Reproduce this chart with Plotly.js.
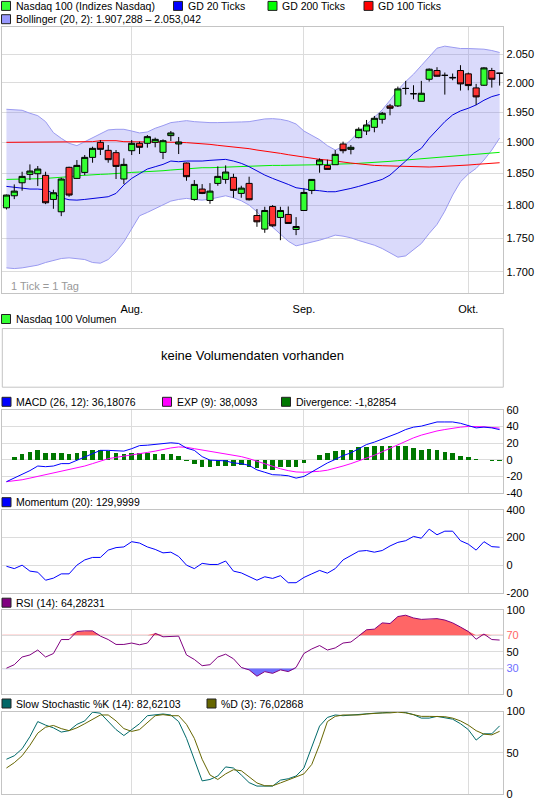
<!DOCTYPE html>
<html>
<head>
<meta charset="utf-8">
<script src="https://cdn.plot.ly/plotly-3.0.1.min.js"></script>
<style>
html,body{margin:0;padding:0;background:#fff;}
#chart{width:545px;height:812px;}
</style>
</head>
<body>
<div id="chart"></div>
<script>
// ---------- DATA ----------
const monthTickIdx = [16, 38, 59];
const monthLabels = ['Aug.', 'Sep.', 'Okt.'];

const priceTicks = [1700, 1750, 1800, 1850, 1900, 1950, 2000, 2050];
const priceTickLabels = ['1.700', '1.750', '1.800', '1.850', '1.900', '1.950', '2.000', '2.050'];

const open = [1796.4,1815.1,1835.5,1848.8,1849.8,1847.2,1809.4,1790.3,1860.0,1842.4,
  1851.9,1876.0,1900.4,1887.4,1883.6,1841.4,1886.8,1898.8,1898.8,1900.4,
  1884.1,1911.4,1897.7,1866.9,1809.4,1825.6,1807.8,1834.5,1840.8,1844.0,
  1818.8,1834.5,1784.6,1763.8,1798.5,1781.6,1786.2,1763.3,1792.3,1823.5,
  1864.2,1863.1,1864.2,1897.7,1889.0,1908.1,1919.0,1925.1,1938.4,1960.8,
  1960.8,1990.5,1981.5,1968.7,2006.3,2021.4,2013.0,2009.5,2021.4,2015.6,
  1991.4,1996.0,2021.4,2016.7];
const high = [1817.0,1832.9,1853.0,1864.7,1862.1,1853.0,1824.5,1843.5,1861.0,1871.7,
  1879.8,1893.3,1904.2,1896.0,1887.9,1874.4,1904.2,1901.5,1912.4,1908.1,
  1905.3,1919.0,1909.2,1867.5,1839.8,1833.4,1835.0,1861.5,1863.1,1849.8,
  1830.8,1845.1,1794.4,1798.0,1800.6,1798.0,1798.5,1782.1,1826.6,1841.4,
  1874.4,1872.3,1887.9,1901.5,1896.0,1925.1,1937.3,1944.0,1950.7,1964.2,
  1993.7,2003.5,1996.0,2003.5,2025.0,2027.2,2017.9,2016.2,2030.7,2017.9,
  1998.3,2027.2,2026.0,2016.7];
const low = [1793.9,1809.9,1823.0,1839.8,1830.3,1802.1,1794.9,1783.6,1813.6,1841.4,
  1847.7,1867.4,1879.8,1867.4,1841.4,1833.4,1879.8,1881.4,1891.7,1892.3,
  1873.3,1902.6,1881.4,1838.7,1807.3,1817.7,1802.6,1830.8,1834.0,1812.0,
  1812.0,1807.8,1767.3,1758.2,1767.3,1747.1,1772.4,1754.7,1792.3,1817.7,
  1851.4,1856.7,1864.2,1882.5,1880.9,1907.0,1912.4,1916.9,1931.2,1945.1,
  1959.1,1980.0,1972.1,1968.7,2002.3,2011.0,1980.0,2004.6,1986.9,1987.4,
  1962.5,1994.9,1992.0,1995.4];
const close = [1816.2,1822.4,1845.6,1854.1,1857.3,1804.2,1819.8,1841.4,1816.2,1863.1,
  1876.0,1890.6,1889.0,1872.3,1861.5,1864.7,1898.8,1892.3,1909.7,1905.3,
  1903.1,1915.8,1901.0,1845.1,1832.9,1818.8,1822.4,1845.6,1852.5,1823.5,
  1827.1,1808.9,1774.9,1792.3,1768.8,1792.3,1772.4,1767.8,1820.3,1840.8,
  1871.7,1856.7,1880.9,1886.8,1892.3,1921.8,1929.0,1940.1,1948.5,1956.9,
  1989.7,1990.5,1981.5,1982.3,2023.7,2011.5,2013.0,2008.8,1998.3,1995.4,
  1976.1,2026.0,2006.3,2016.7];

const bollUpper = [1955.2,1954.6,1953.5,1948.5,1944.5,1934.5,1916.3,1907.0,1898.8,1895.0,
  1901.5,1907.0,1914.7,1920.8,1921.8,1921.8,1919.0,1915.8,1917.4,1923.5,
  1927.9,1932.9,1934.5,1936.2,1934.5,1933.4,1932.9,1932.9,1932.9,1933.4,
  1934.0,1934.5,1936.8,1939.0,1939.5,1938.4,1935.7,1930.6,1919.0,1912.4,
  1904.8,1895.0,1887.9,1893.3,1904.2,1918.0,1930.1,1941.2,1954.1,1970.4,
  1988.0,2002.3,2015.0,2030.1,2045.3,2060.6,2064.2,2061.8,2060.0,2060.0,
  2059.4,2058.8,2056.5,2053.0];
const bollLower = [1706.0,1705.0,1706.0,1707.5,1710.0,1713.9,1717.3,1719.8,1720.8,1719.8,
  1718.3,1713.9,1712.9,1718.3,1729.7,1744.6,1764.8,1784.1,1789.3,1795.4,
  1800.6,1806.8,1809.4,1811.0,1809.4,1808.3,1809.9,1813.0,1815.1,1812.0,
  1807.3,1800.6,1790.3,1777.5,1766.8,1755.7,1745.6,1738.6,1741.1,1744.6,
  1747.1,1750.7,1754.7,1753.2,1750.7,1746.6,1743.6,1739.6,1734.6,1728.2,
  1721.8,1723.7,1732.2,1742.1,1757.2,1770.9,1791.3,1816.2,1837.1,1849.3,
  1858.3,1871.7,1887.9,1907.3];
const gd20 = [1829.8,1828.7,1826.6,1825.6,1825.6,1824.5,1818.8,1812.0,1808.9,1808.3,
  1809.4,1811.0,1813.0,1813.6,1818.8,1831.9,1842.4,1850.4,1857.3,1861.0,
  1864.7,1870.1,1869.0,1870.1,1869.6,1870.1,1871.2,1871.7,1872.8,1870.1,
  1866.4,1861.0,1854.1,1847.7,1842.4,1838.2,1832.9,1827.7,1825.6,1824.0,
  1823.0,1821.4,1821.4,1823.5,1826.6,1829.8,1833.4,1837.1,1840.8,1847.7,
  1858.3,1870.1,1882.5,1890.6,1907.0,1920.8,1934.5,1945.7,1952.4,1956.9,
  1962.5,1970.4,1976.6,1980.2];
const gd200 = [1840.8,1840.8,1841.4,1841.4,1841.9,1842.4,1843.0,1844.0,1845.1,1846.6,
  1847.7,1848.2,1848.8,1849.3,1849.8,1851.4,1851.9,1852.5,1853.0,1854.1,
  1854.6,1855.7,1856.7,1857.8,1858.9,1859.4,1859.4,1860.0,1860.5,1861.0,
  1861.5,1862.1,1862.6,1863.1,1863.1,1863.1,1863.1,1863.1,1863.1,1863.7,
  1864.2,1864.7,1864.7,1865.3,1865.8,1866.4,1866.9,1867.4,1868.5,1869.6,
  1870.7,1871.7,1872.8,1873.9,1875.0,1876.0,1876.6,1877.6,1878.7,1879.8,
  1880.3,1881.4,1882.5,1884.1];
const gd100 = [1900.4,1900.4,1900.4,1900.4,1901.5,1901.5,1901.5,1901.5,1901.5,1901.5,
  1901.5,1901.5,1903.1,1903.1,1903.1,1901.5,1901.5,1901.5,1901.5,1901.5,
  1901.5,1901.5,1900.4,1899.9,1899.3,1898.2,1897.1,1895.5,1894.4,1892.8,
  1891.7,1890.1,1887.9,1886.3,1884.1,1882.5,1880.3,1878.2,1876.6,1874.4,
  1872.8,1871.7,1870.7,1868.5,1866.9,1865.3,1864.2,1863.1,1862.6,1862.1,
  1862.1,1861.5,1861.5,1861.0,1860.5,1861.0,1861.5,1862.6,1863.1,1863.7,
  1864.7,1865.3,1866.4,1867.4];

const macd = [-26.3,-22,-18,-13,-7.5,-8.3,-7.5,-4.6,-4.6,-0.4,
  2.9,7.9,11.3,11.3,10.4,10.4,13.3,17,17.5,18.3,
  19.6,20.4,19.6,14,11.3,3.8,-0.4,-1.3,-1.3,-3.8,
  -4.6,-6.7,-12.1,-15,-17.9,-18.3,-19.2,-22,-20,-14.6,
  -8.8,-3.8,0.4,5,8.3,13.3,18.3,21.2,24.6,27.9,
  32,36.3,39.2,40.4,43.3,45.4,45.4,45.4,43.8,41.3,
  38.3,39.2,38.3,36.18];
const macdSignal = [-26.3,-25.5,-24,-22,-20,-17.5,-15.5,-13.8,-12,-10,
  -7.5,-4.6,-1.3,1.3,2.9,4.2,5.8,7.1,8.8,10.4,
  12.5,14.2,15.4,15,13.3,11.7,10.4,8.8,7.1,5.4,
  3.8,1.3,-1.7,-4.6,-8,-10.8,-13,-14.6,-15,-14.6,
  -13.8,-12.5,-10.4,-7.5,-4.6,-1.3,1.7,5.4,9.6,13.8,
  18.3,22.5,26.3,29.6,32.5,34.6,36.3,38,39.2,40,
  40,39.6,38.8,38.01];
const macdDiv = [0,3.3,7,9.6,12,8.3,8.3,8.3,7.5,8.3,
  10.8,12,12,10.8,7.9,7,7.9,7.9,8.3,7,
  7,7,4.6,-2,-5.4,-8.8,-9.2,-7.9,-7.5,-7.9,
  -6.7,-9.2,-10,-10.8,-11.7,-8.8,-8.8,-8.8,-4.2,0,
  6.3,8.3,10.8,12,12,15.4,15.8,16.3,16.3,16.3,
  16.3,16.3,14.6,12,13.3,12,9.2,8.3,4.6,3.3,
  0.8,0,-1.2,-1.83];

const momentum = [-8,-25,0,-43,-51,-109,-94,-63,-63,0,
  38,56,56,109,127,132,170,160,132,114,
  89,94,63,0,-25,13,5,5,30,-43,
  -56,-84,-109,-84,-96,-76,-127,-127,-89,-63,
  -38,-58,-25,38,68,101,106,94,106,139,
  165,177,208,195,261,220,246,246,177,152,
  109,170,134,130];

const rsi = [30.5,34.7,43.9,46.4,52.3,43.9,48.1,64.9,64.9,74.5,
  75.3,75.3,69,64.9,59,59,60.7,58.6,60.7,72.4,
  68.2,68.2,69,46.4,41,33.5,34.7,43.9,47.3,41.8,
  31.4,28.5,20.9,26.4,24.3,28.5,26.4,31.4,48.1,53.6,
  57.7,52.3,54.8,60.7,61.9,69,76.6,77.4,84.9,84.1,
  92.5,94.1,90.8,89.1,89.1,90,88.3,84.9,79.9,74.5,
  65.3,71.5,64.9,64.28];
const rsiLevels = [30, 70];

const stochK = [42.2,46.4,54.9,69.6,87.8,83.5,80.2,75.1,76.8,84.4,
  88.6,99.2,97.9,88.6,78.1,70.9,78.1,85.2,94.9,95.8,
  97,95.8,87.8,67.5,42.2,16,17.7,21.9,32.9,31.6,
  23.2,13.9,9.7,9.7,9.7,16.9,18.6,21.9,31.6,57,
  82.3,92.8,95.8,94.9,95.8,95.8,97,97.9,98.3,99.2,
  100,98.7,96.2,92,92,94.1,92.8,90.7,85.2,78.1,
  65.4,73,73,82.62];
const stochD = [31.6,38,46.4,59.1,73.8,81,83.1,79.3,76.8,80.2,
  85.2,90.7,95.8,95.8,88.6,79.3,75.9,78.1,86.5,94.9,
  96.2,94.9,94.9,84.4,67.5,42.2,23.2,17.7,24.5,29.5,
  28.3,21.1,13.5,10.1,10.1,13.5,16.9,20.3,24.5,35.9,
  59.9,87.8,94.1,95.8,95.8,95.8,97,97.9,98.3,98.3,
  99.2,98.3,96.2,94.1,94.1,93.7,93.7,92,88.6,83.5,
  76.8,72.6,71.7,76.03];

// ---------- LAYOUT HELPERS ----------
const W = 545, H = 812;
const fx = p => p / W;
const fy = p => 1 - p / H;
const idx = close.map((_, i) => i);
const xRange = [-0.53, 63.47];
const FONT = 'Liberation Sans, Arial, Helvetica, sans-serif';
const GRID = '#dcdcdc', FRAME = '#c4c4c4';
const xDom = [fx(2.3), fx(503.3)];
const panels = {
  main: [26.7, 292.7], vol: [328.5, 387.2], macd: [409.8, 493.1],
  mom: [509.9, 592.8], rsi: [610.3, 693.6], sto: [711.5, 794.1]
};
const dom = k => [fy(panels[k][1]), fy(panels[k][0])];
const tickFont = {family: FONT, size: 11, color: '#000'};

function xAx(anchor, showLabels) {
  return {
    domain: xDom, range: xRange, anchor: anchor, type: 'linear',
    showgrid: true, gridcolor: GRID, gridwidth: 1, zeroline: false,
    showline: true, mirror: true, linecolor: FRAME, linewidth: 1,
    ticks: '', tickmode: 'array', tickvals: monthTickIdx, ticktext: monthLabels,
    showticklabels: showLabels, tickfont: tickFont, fixedrange: true,
    ticklabelstandoff: 6
  };
}
function yAx(anchor, key, range, tv, tt, extra) {
  return Object.assign({
    domain: dom(key), range: range, anchor: anchor, side: 'right',
    showgrid: true, gridcolor: GRID, gridwidth: 1, zeroline: false,
    showline: true, mirror: true, linecolor: FRAME, linewidth: 1,
    ticks: '', tickmode: 'array', tickvals: tv, ticktext: tt,
    tickfont: tickFont, fixedrange: true
  }, extra || {});
}
const hyphen = v => String(v).replace('\u2212', '-');
const priceRange = [Math.log10(1670), Math.log10(2099)];

const macdTicks = [-40, -20, 0, 20, 40, 60];
const momTicks = [-200, 0, 200, 400];
const rsiTicks = [0, 30, 50, 70, 100];
const rsiTickText = ['0', '<span style="color:#6f6fff">30</span>', '50', '<span style="color:#ff6666">70</span>', '100'];
const stoTicks = [0, 50, 100];

// ---------- TRACES ----------
const line = (x, y, xa, ya, color, extra) => Object.assign({
  type: 'scatter', mode: 'lines', x: x, y: y, xaxis: xa, yaxis: ya,
  line: {color: color, width: 1}, hoverinfo: 'skip', showlegend: false
}, extra || {});

const traces = [
  line(idx, bollLower, 'x', 'y', '#9a9af0'),
  line(idx, bollUpper, 'x', 'y', '#9a9af0', {fill: 'tonexty', fillcolor: 'rgba(112,112,240,0.26)'}),
  line(idx, gd200, 'x', 'y', '#00ee00'),
  line(idx, gd100, 'x', 'y', '#ff0000'),
  line(idx, gd20, 'x', 'y', '#0000dd'),
  {
    type: 'candlestick', x: idx, open: open, high: high, low: low, close: close,
    xaxis: 'x', yaxis: 'y7', whiskerwidth: 0, hoverinfo: 'skip', showlegend: false,
    increasing: {fillcolor: '#33ff33', line: {color: '#000', width: 1}},
    decreasing: {fillcolor: '#ff3333', line: {color: '#000', width: 1}}
  },
  // MACD
  {type: 'bar', x: idx, y: macdDiv, xaxis: 'x2', yaxis: 'y2', width: 0.58,
   marker: {color: '#007700', line: {width: 0}}, hoverinfo: 'skip', showlegend: false},
  line(idx, macdSignal, 'x2', 'y2', '#ff00ff'),
  line(idx, macd, 'x2', 'y2', '#0000ff'),
  // Momentum
  line(idx, momentum, 'x3', 'y3', '#0000ff'),
  // RSI with fills
  line(idx, rsi.map(() => rsiLevels[1]), 'x4', 'y4', 'rgba(0,0,0,0)', {line: {width: 0}}),
  line(idx, rsi.map(v => Math.max(v, rsiLevels[1])), 'x4', 'y4', 'rgba(0,0,0,0)',
       {line: {width: 0}, fill: 'tonexty', fillcolor: '#ff6666'}),
  line(idx, rsi.map(() => rsiLevels[0]), 'x4', 'y4', 'rgba(0,0,0,0)', {line: {width: 0}}),
  line(idx, rsi.map(v => Math.min(v, rsiLevels[0])), 'x4', 'y4', 'rgba(0,0,0,0)',
       {line: {width: 0}, fill: 'tonexty', fillcolor: '#7070ff'}),
  line(idx, rsi, 'x4', 'y4', '#800080'),
  // Stochastic
  line(idx, stochK, 'x5', 'y5', '#006a6a'),
  line(idx, stochD, 'x5', 'y5', '#666600')
];

// ---------- LEGENDS / TEXT ----------
const legendItems = [
  {x: 1.5, y: 5.9, color: '#33ff33', text: 'Nasdaq 100 (Indizes Nasdaq)'},
  {x: 173.5, y: 5.9, color: '#0000ff', text: 'GD 20 Ticks'},
  {x: 268, y: 5.9, color: '#00ff00', text: 'GD 200 Ticks'},
  {x: 364, y: 5.9, color: '#ff0000', text: 'GD 100 Ticks'},
  {x: 1.5, y: 19.2, color: '#9999ff', text: 'Bollinger (20, 2): 1.907,288 \u2013 2.053,042'},
  {x: 1.5, y: 319, color: '#33ff33', text: 'Nasdaq 100 Volumen'},
  {x: 2, y: 401.8, color: '#0000ff', text: 'MACD (26, 12): 36,18076'},
  {x: 162.5, y: 401.8, color: '#ff00ff', text: 'EXP (9): 38,0093'},
  {x: 281.5, y: 401.8, color: '#007700', text: 'Divergence: -1,82854'},
  {x: 2, y: 502.2, color: '#0000ff', text: 'Momentum (20): 129,9999'},
  {x: 2, y: 602.7, color: '#800080', text: 'RSI (14): 64,28231'},
  {x: 2, y: 703.5, color: '#006666', text: 'Slow Stochastic %K (14): 82,62103'},
  {x: 207, y: 703.5, color: '#666600', text: '%D (3): 76,02868'}
];

const shapes = [];
const annotations = [];
legendItems.forEach(it => {
  shapes.push({type: 'rect', xref: 'paper', yref: 'paper',
    x0: fx(it.x), x1: fx(it.x + 9), y0: fy(it.y + 4.5), y1: fy(it.y - 4.5),
    fillcolor: it.color, line: {color: '#222', width: 1}, layer: 'above'});
  annotations.push({xref: 'paper', yref: 'paper', x: fx(it.x + 13), y: fy(it.y),
    xanchor: 'left', yanchor: 'middle', showarrow: false, text: it.text,
    font: {family: FONT, size: 10.5, color: '#000'}, borderpad: 0});
});
// volume panel frame + message
shapes.push({type: 'rect', xref: 'paper', yref: 'paper',
  x0: xDom[0], x1: xDom[1], y0: fy(panels.vol[1]), y1: fy(panels.vol[0]),
  line: {color: FRAME, width: 1}, fillcolor: 'rgba(0,0,0,0)'});
annotations.push({xref: 'paper', yref: 'paper', x: (xDom[0] + xDom[1]) / 2, y: fy(355),
  xanchor: 'center', yanchor: 'middle', showarrow: false, text: 'keine Volumendaten vorhanden',
  font: {family: FONT, size: 13, color: '#000'}});
annotations.push({xref: 'paper', yref: 'paper', x: fx(9), y: fy(286),
  xanchor: 'left', yanchor: 'middle', showarrow: false, text: '1 Tick = 1 Tag',
  font: {family: FONT, size: 11, color: '#999'}});
// RSI threshold lines
shapes.push({type: 'line', xref: 'x4 domain', yref: 'y4', x0: 0, x1: 1, y0: rsiLevels[1], y1: rsiLevels[1],
  line: {color: '#ff6666', width: 1}, layer: 'below'});
shapes.push({type: 'line', xref: 'x4 domain', yref: 'y4', x0: 0, x1: 1, y0: rsiLevels[0], y1: rsiLevels[0],
  line: {color: '#6f6fff', width: 1}, layer: 'below'});

const layout = {
  width: W, height: H, margin: {l: 0, r: 0, t: 0, b: 0, pad: 0},
  paper_bgcolor: '#fff', plot_bgcolor: '#fff', showlegend: false,
  font: {family: FONT, size: 11, color: '#000'},
  boxgap: 0.22, boxgroupgap: 0, bargap: 0,
  xaxis: Object.assign(xAx('y', true), {rangeslider: {visible: false}}),
  yaxis: yAx('x', 'main', priceRange, priceTicks, priceTickLabels, {type: 'log'}),
  yaxis7: {overlaying: 'y', type: 'log', range: priceRange, side: 'right', anchor: 'x',
    showgrid: false, showticklabels: false, showline: false, zeroline: false, ticks: '', fixedrange: true},
  xaxis2: xAx('y2', false),
  yaxis2: yAx('x2', 'macd', [-40, 60], macdTicks, macdTicks.map(hyphen)),
  xaxis3: xAx('y3', false),
  yaxis3: yAx('x3', 'mom', [-200, 400], momTicks, momTicks.map(hyphen)),
  xaxis4: xAx('y4', false),
  yaxis4: yAx('x4', 'rsi', [0, 100], rsiTicks, rsiTickText),
  xaxis5: xAx('y5', false),
  yaxis5: yAx('x5', 'sto', [0, 100], stoTicks, stoTicks.map(String)),
  shapes: shapes,
  annotations: annotations
};

Plotly.newPlot('chart', traces, layout, {staticPlot: true, displayModeBar: false});
</script>
</body>
</html>
